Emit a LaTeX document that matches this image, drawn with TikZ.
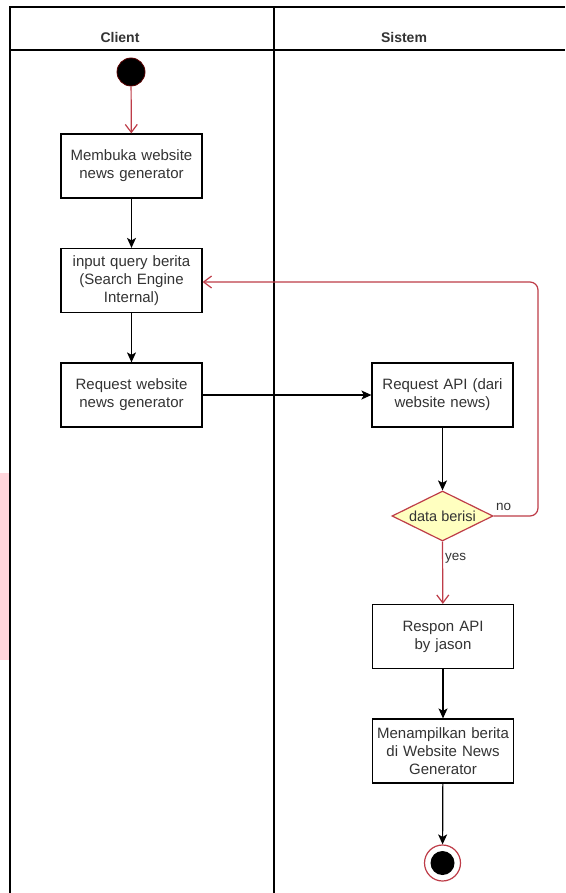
\documentclass[tikz,border=0pt]{standalone}
\usepackage{fontspec}
\setmainfont{Liberation Sans}
\usetikzlibrary{arrows.meta,shapes.geometric}
\definecolor{txtgray}{RGB}{51,51,51}
\definecolor{flowred}{RGB}{190,60,72}
\definecolor{dkred}{RGB}{90,0,0}
\definecolor{pinkbar}{RGB}{255,214,220}
\definecolor{dyellow}{RGB}{255,255,192}
\begin{document}
\begin{tikzpicture}[x=1pt,y=-1pt,
  box/.style={draw=black, line width=1.2pt, fill=white, minimum width=141pt, minimum height=64pt,
    text width=138pt, align=center, inner sep=0pt, text=txtgray,
    font=\fontsize{15}{18}\selectfont},
  lane/.style={draw=black, line width=1.3pt},
  blackflow/.style={draw=black, line width=1.2pt, -{Stealth[length=10pt,width=9pt,inset=2.5pt]}},
  redflow/.style={draw=flowred, line width=1.2pt, -{Straight Barb[length=8pt,width=12pt]}},
  hdr/.style={font=\fontsize{14}{16}\selectfont\bfseries, text=txtgray},
  lbl/.style={font=\fontsize{13.5}{15}\selectfont, text=txtgray, inner sep=0pt}]
\useasboundingbox (0,0) rectangle (565,893);
\fill[white] (0,0) rectangle (565,893);
% artifact bar
\fill[pinkbar] (0,473) rectangle (10,660);
% swimlane frame
\draw[lane] (10,893) -- (10,7) -- (565,7);
\draw[lane] (10,50) -- (565,50);
\draw[lane] (274,7) -- (274,893);
\node[hdr] (hc) at (120,37) {Client};
\node[hdr] (hs) at (404,37) {Sistem};
% start
\node[circle, fill=black, draw=dkred, line width=0.8pt, minimum size=28pt, inner sep=0pt] (start) at (131,72) {};
% boxes
\node[box] (b1) at (131.5,166) {Membuka website\\news generator};
\node[box] (b2) at (131.5,280.5) {input query berita\\(Search Engine\\Internal)};
\node[box] (b3) at (131.5,395) {Request website\\news generator};
\node[box] (b4) at (442.5,395) {Request API (dari\\website news)};
\node[diamond, draw=flowred, fill=dyellow, line width=1.2pt, minimum width=101pt, minimum height=50pt, inner sep=0pt] (d) at (442.5,516) {};
\node[lbl, font=\fontsize{14.5}{16}\selectfont] (dt) at (442.5,516) {data berisi};
\node[box] (b5) at (443,636.5) {Respon API\\by jason};
\node[box] (b6) at (443,751) {Menampilkan berita\\di Website News\\Generator};
% end
\node[circle, draw=flowred, fill=white, line width=1.2pt, minimum size=36pt, inner sep=0pt] (end) at (442.5,863) {};
\node[circle, fill=black, minimum size=24pt, inner sep=0pt] (endin) at (442.5,863) {};
\coordinate (rx) at (538,282);
% connectors
\draw[redflow] (start) -- (b1);
\draw[blackflow] (b1) -- (b2);
\draw[blackflow] (b2) -- (b3);
\draw[blackflow] (b3) -- (b4);
\draw[blackflow] (b4) -- (d.north);
\draw[redflow] (d.south) -- (b5);
\draw[blackflow] (b5) -- (b6);
\draw[blackflow] (b6) -- (end);
\draw[redflow, rounded corners=8pt] (d.east) -| (rx) -- (rx -| b2.east);
\node[lbl, anchor=south west] (no) at (496,511) {no};
\node[lbl, anchor=west] (yes) at (445,558) {yes};
\end{tikzpicture}
\end{document}
